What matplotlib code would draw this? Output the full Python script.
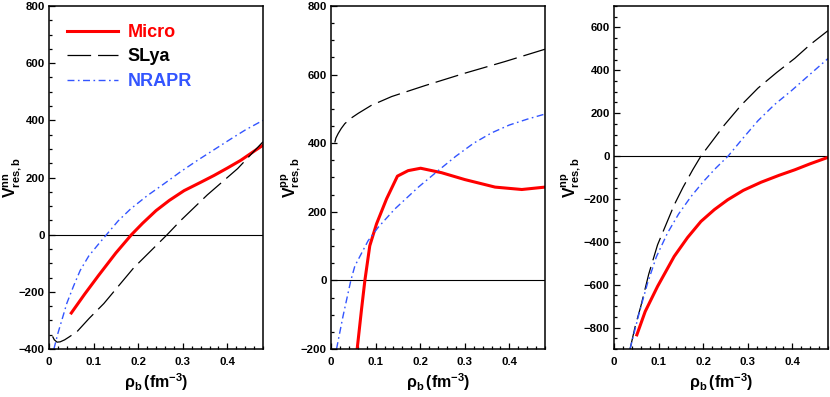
import matplotlib
matplotlib.use("Agg")
import matplotlib.pyplot as plt
from matplotlib.ticker import MultipleLocator

plt.rcParams['font.family'] = 'Liberation Sans'
plt.rcParams['font.weight'] = 'bold'
plt.rcParams['mathtext.fontset'] = 'custom'
plt.rcParams['mathtext.rm'] = 'Liberation Sans:bold'
plt.rcParams['mathtext.bf'] = 'Liberation Sans:bold'
plt.rcParams['mathtext.it'] = 'Liberation Sans:bold:italic'
plt.rcParams['lines.scale_dashes'] = False

# nn channel
micro_nn_x = [0.05, 0.08, 0.111, 0.15, 0.185, 0.21, 0.24, 0.27, 0.303, 0.34, 0.37, 0.4, 0.43, 0.46, 0.48]
micro_nn_y = [-274, -208, -143, -64, 0, 40, 84, 120, 154, 183, 207, 233, 260, 292, 313]
slya_nn_x = [0.008, 0.012, 0.018, 0.025, 0.035, 0.045, 0.063, 0.09, 0.123, 0.19, 0.265, 0.295, 0.355, 0.423, 0.48]
slya_nn_y = [-356, -368, -376, -375, -368, -358, -339, -293, -241, -116, 0, 49, 139, 231, 325]
nrapr_nn_x = [0.011, 0.02, 0.029, 0.04, 0.055, 0.07, 0.089, 0.11, 0.129, 0.155, 0.183, 0.22, 0.258,
              0.295, 0.333, 0.37, 0.408, 0.44, 0.48]
nrapr_nn_y = [-400, -345, -298, -240, -180, -125, -75, -35, 0, 48, 90, 136, 178, 220, 260, 297, 335, 366, 400]

# pp channel
micro_pp_x = [0.0587, 0.0685, 0.076, 0.087, 0.1022, 0.1247, 0.149, 0.173, 0.201, 0.248, 0.3, 0.368, 0.428, 0.48]
micro_pp_y = [-200, -84, 0, 101, 165, 238, 304, 320, 327, 314, 294, 272, 265, 272]
slya_pp_x = [0.0085, 0.011, 0.016, 0.023, 0.031, 0.045, 0.061, 0.09, 0.136, 0.211, 0.3, 0.39, 0.48]
slya_pp_y = [402, 415, 428, 443, 457, 473, 487, 510, 536, 568, 604, 638, 674]
nrapr_pp_x = [0.0124, 0.027, 0.0445, 0.0535, 0.0834, 0.106, 0.143, 0.196, 0.245, 0.28, 0.32, 0.36, 0.4, 0.44, 0.48]
nrapr_pp_y = [-200, -104, 0, 42, 116, 155, 208, 272, 325, 362, 400, 430, 453, 470, 485]

# np channel
micro_np_x = [0.0512, 0.07, 0.0977, 0.135, 0.165, 0.195, 0.225, 0.255, 0.29, 0.33, 0.37, 0.4056, 0.44, 0.48]
micro_np_y = [-834, -725, -608, -468, -380, -305, -250, -204, -160, -122, -90, -64, -36, -6]
slya_np_x = [0.036, 0.048, 0.06, 0.078, 0.0977, 0.135, 0.155, 0.1766, 0.195, 0.248, 0.285, 0.323,
             0.365, 0.4056, 0.44, 0.48]
slya_np_y = [-900, -790, -702, -550, -414, -228, -145, -64, 0, 146, 237, 317, 390, 456, 520, 585]
nrapr_np_x = [0.036, 0.0565, 0.0752, 0.095, 0.12, 0.145, 0.1727, 0.2, 0.228, 0.256, 0.29, 0.323,
              0.36, 0.398, 0.44, 0.48]
nrapr_np_y = [-900, -732, -593, -470, -359, -270, -189, -120, -57, 0, 85, 165, 240, 305, 382, 455]

panels = [
    ('nn', micro_nn_x, micro_nn_y, slya_nn_x, slya_nn_y, nrapr_nn_x, nrapr_nn_y, (-400, 800)),
    ('pp', micro_pp_x, micro_pp_y, slya_pp_x, slya_pp_y, nrapr_pp_x, nrapr_pp_y, (-200, 800)),
    ('np', micro_np_x, micro_np_y, slya_np_x, slya_np_y, nrapr_np_x, nrapr_np_y, (-900, 700)),
]
lefts = [49, 331, 614]
label_x = [-0.12, -0.13, -0.145]

red = '#ff0000'
blue = '#3355ff'

fig = plt.figure(figsize=(8.3, 3.97), dpi=100)
for (ch, mx, my, sx, sy, nx, ny, ylim), left, lx in zip(panels, lefts, label_x):
    ax = fig.add_axes([left / 830, 1 - 349 / 397, 214 / 830, 343 / 397])
    ax.axhline(0, color='black', lw=0.8)
    ax.plot(mx, my, color=red, lw=2.2, label='Micro')
    ax.plot(sx, sy, color='black', lw=0.9, ls=(0, (17, 5)), label='SLya')
    ax.plot(nx, ny, color=blue, lw=1.0, ls=(0, (5, 2.5, 1.2, 2.5)), label='NRAPR')
    ax.set_xlim(0, 0.48)
    ax.set_ylim(*ylim)
    ax.xaxis.set_minor_locator(MultipleLocator(0.02))
    ax.yaxis.set_major_locator(MultipleLocator(200))
    ax.yaxis.set_minor_locator(MultipleLocator(50))
    ax.set_xticks([0, 0.1, 0.2, 0.3, 0.4])
    ax.set_xticklabels(['0', '0.1', '0.2', '0.3', '0.4'])
    ax.tick_params(which='both', direction='in', top=False, right=False, width=0.9, labelsize=8.2)
    ax.tick_params(which='major', length=4.2)
    ax.tick_params(which='minor', length=2.2)
    ax.tick_params(axis='x', pad=6)
    ax.tick_params(axis='y', pad=3)
    for s in ax.spines.values():
        s.set_linewidth(1.1)
    ax.set_ylabel(r'$\mathbf{V}^{\mathbf{%s}}_{\mathbf{res,b}}$' % ch, fontsize=11.5)
    ax.yaxis.set_label_coords(lx, 0.5)
    ax.set_xlabel(r'$\mathrm{\rho}_{\mathbf{b}}\,\mathbf{(fm}^{\mathbf{-3}}\mathbf{)}$', fontsize=11.5)
    ax.xaxis.set_label_coords(0.5, -0.065)
    if ch == 'nn':
        leg = ax.legend(loc='upper left', bbox_to_anchor=(0.085, 0.948), frameon=False,
                        fontsize=13, handlelength=2.8, handletextpad=0.55, labelspacing=0.42,
                        borderpad=0, borderaxespad=0)
        for t, c in zip(leg.get_texts(), [red, 'black', blue]):
            t.set_color(c)
            t.set_fontweight('bold')

fig.savefig('out.png', dpi=100)
